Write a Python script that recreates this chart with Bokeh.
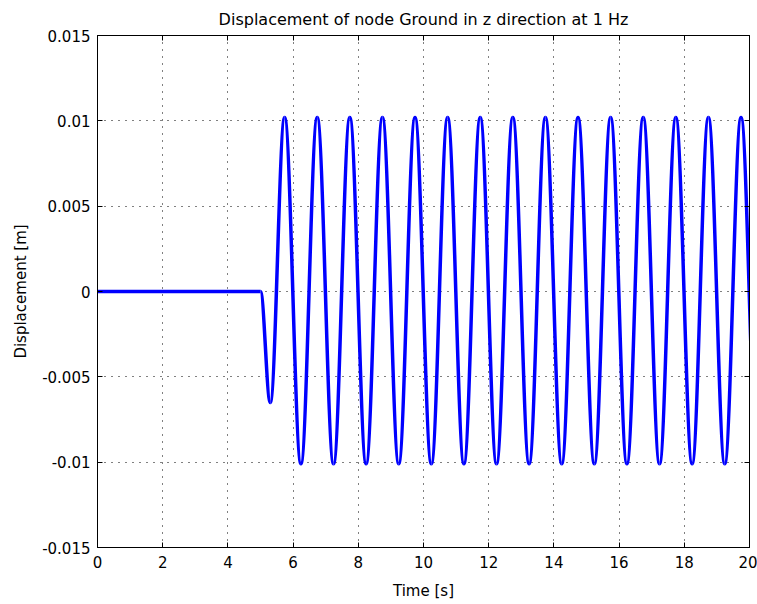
from bokeh.plotting import figure
from bokeh.models import (Range1d, FixedTicker, LinearAxis, CustomJSTickFormatter)
from bokeh.embed import file_html
from bokeh.resources import INLINE

# ---- data ----
rest_times = [0.0, 5.0]
rest_values = [0.0, 0.0]
# successive extrema of the response (time [s], displacement [m])
extrema_times = [5.0, 5.30, 5.74, 6.24, 6.74, 7.24, 7.74, 8.24, 8.74, 9.24, 9.74,
                 10.24, 10.74, 11.24, 11.74, 12.24, 12.74, 13.24, 13.74, 14.24,
                 14.74, 15.24, 15.74, 16.24, 16.74, 17.24, 17.74, 18.24, 18.74,
                 19.24, 19.74, 20.24]
extrema_values = [0.0, -0.0065, 0.0102, -0.0101, 0.0102, -0.0101, 0.0102, -0.0101,
                  0.0102, -0.0101, 0.0102, -0.0101, 0.0102, -0.0101, 0.0102, -0.0101,
                  0.0102, -0.0101, 0.0102, -0.0101, 0.0102, -0.0101, 0.0102, -0.0101,
                  0.0102, -0.0101, 0.0102, -0.0101, 0.0102, -0.0101, 0.0102, -0.0101]
x_ticks = [0, 2, 4, 6, 8, 10, 12, 14, 16, 18, 20]
y_ticks = [-0.015, -0.01, -0.005, 0, 0.005, 0.01, 0.015]

FONT = "DejaVu Sans"
FS = "15px"

p = figure(frame_width=652, frame_height=512, output_backend="svg",
           toolbar_location=None, x_range=Range1d(0, 20),
           y_range=Range1d(-0.015, 0.015),
           min_border_left=97, min_border_right=8, min_border_top=34,
           min_border_bottom=58)
p.title.text = "Displacement of node Ground in z direction at 1 Hz"
p.title.align = "center"
p.title.text_font = FONT
p.title.text_font_style = "normal"
p.title.text_font_size = "16px"
p.title.text_color = "black"
p.title.offset = 0
p.title.standoff = 14
p.background_fill_color = "white"
p.border_fill_color = "white"
p.outline_line_color = "black"
p.outline_line_width = 1

fmt = CustomJSTickFormatter(code="return String(Number(tick.toPrecision(6)));")

for ax, ticks in ((p.xaxis[0], x_ticks), (p.yaxis[0], y_ticks)):
    ax.ticker = FixedTicker(ticks=ticks)
    ax.formatter = fmt
    ax.major_tick_in = 5
    ax.major_tick_out = 0
    ax.minor_tick_line_color = None
    ax.axis_line_color = "black"
    ax.major_tick_line_color = "black"
    ax.major_label_text_font = FONT
    ax.major_label_text_font_size = FS
    ax.major_label_text_color = "black"
    ax.axis_label_text_font = FONT
    ax.axis_label_text_font_size = FS
    ax.axis_label_text_font_style = "normal"
    ax.axis_label_text_color = "black"

p.xaxis[0].axis_label = "Time [s]"
p.yaxis[0].axis_label = "Displacement [m]"
p.xaxis[0].major_label_standoff = 8
p.yaxis[0].major_label_standoff = 7
p.xaxis[0].axis_label_standoff = 11
p.yaxis[0].axis_label_standoff = 9

# ticks on the opposite sides (MATLAB box style), no labels
blank = CustomJSTickFormatter(code="return '';")
top = LinearAxis(ticker=FixedTicker(ticks=x_ticks), formatter=blank,
                 major_tick_in=5, major_tick_out=0, minor_tick_line_color=None,
                 axis_line_color="black", major_label_standoff=0)
right = LinearAxis(ticker=FixedTicker(ticks=y_ticks), formatter=blank,
                   major_tick_in=5, major_tick_out=0, minor_tick_line_color=None,
                   axis_line_color="black", major_label_standoff=0)
p.add_layout(top, "above")
p.add_layout(right, "right")

p.xgrid.ticker = FixedTicker(ticks=x_ticks)
p.ygrid.ticker = FixedTicker(ticks=y_ticks)
for g in (p.xgrid[0], p.ygrid[0]):
    g.grid_line_color = "black"
    g.grid_line_dash = "1 6"
    g.grid_line_width = 1
    g.grid_line_alpha = 1.0

BLUE = "#0000ff"
LW = 3.5
p.line(rest_times, rest_values, line_color=BLUE, line_width=LW)

# smooth half-cycles between successive extrema (horizontal tangents at extrema)
k = 0.364
x0, y0, x1, y1, cx0, cy0, cx1, cy1 = [], [], [], [], [], [], [], []
for i in range(len(extrema_times) - 1):
    ta, tb = extrema_times[i], extrema_times[i + 1]
    va, vb = extrema_values[i], extrema_values[i + 1]
    dt = tb - ta
    x0.append(ta); y0.append(va); x1.append(tb); y1.append(vb)
    cx0.append(ta + k * dt); cy0.append(va)
    cx1.append(tb - k * dt); cy1.append(vb)
p.bezier(x0=x0, y0=y0, x1=x1, y1=y1, cx0=cx0, cy0=cy0, cx1=cx1, cy1=cy1,
         line_color=BLUE, line_width=LW)

open("out.html", "w").write(file_html(p, INLINE))
